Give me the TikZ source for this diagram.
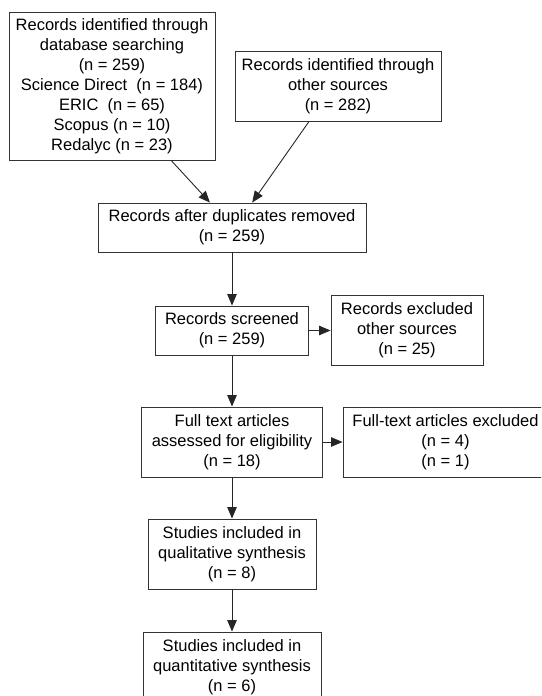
\documentclass[tikz,border=0pt]{standalone}
\usepackage{fontspec}
\setmainfont{Liberation Sans}
\usetikzlibrary{arrows.meta,calc}
\begin{document}
\begin{tikzpicture}[x=1pt,y=-1pt,
  box/.style={draw=black!80, line width=0.9pt, align=center, inner sep=0pt,
    font=\fontsize{16.5}{20}\selectfont},
  arr/.style={draw=black!85, line width=0.9pt, -{Triangle[length=11.5pt,width=9.5pt]}}]
\clip (0,0) rectangle (541,696);
\node[box, minimum width=206pt, minimum height=148pt] (A) at (112,86)
  {Records identified through\\database searching\\(n = 259)\\Science Direct\ \ (n = 184)\\ERIC\ \ (n = 65)\\Scopus (n = 10)\\Redalyc (n = 23)};
\node[box, minimum width=206pt, minimum height=70pt] (B) at (338,86)
  {Records identified through\\other sources\\(n = 282)};
\node[box, minimum width=268pt, minimum height=49pt] (C) at (232,227.5)
  {Records after duplicates removed\\(n = 259)};
\node[box, minimum width=153pt, minimum height=49pt] (D) at (232,330.5)
  {Records screened\\(n = 259)};
\node[box, minimum width=152pt, minimum height=70pt] (E) at (407,330)
  {Records excluded\\other sources\\(n = 25)};
\node[box, minimum width=181pt, minimum height=70pt] (F) at (232,442)
  {Full text articles\\assessed for eligibility\\(n = 18)};
\node[box, minimum width=205pt, minimum height=70pt] (G) at (445.5,442)
  {Full-text articles excluded\\(n = 4)\\(n = 1)};
\node[box, minimum width=168pt, minimum height=70pt] (H) at (232,554)
  {Studies included in\\qualitative synthesis\\(n = 8)};
\node[box, minimum width=178pt, minimum height=70pt] (I) at (232,667)
  {Studies included in\\quantitative synthesis\\(n = 6)};
\draw[arr] ($(A.south west)!0.786!(A.south east)$) -- ($(C.north west)!0.418!(C.north east)$);
\draw[arr] ($(B.south west)!0.36!(B.south east)$) -- ($(C.north west)!0.575!(C.north east)$);
\draw[arr] (C.south) -- (D.north);
\draw[arr] (D.east) -- (D.east -| E.west);
\draw[arr] (D.south) -- (F.north);
\draw[arr] (F.east) -- (G.west);
\draw[arr] (F.south) -- (H.north);
\draw[arr] (H.south) -- (I.north);
\end{tikzpicture}
\end{document}
